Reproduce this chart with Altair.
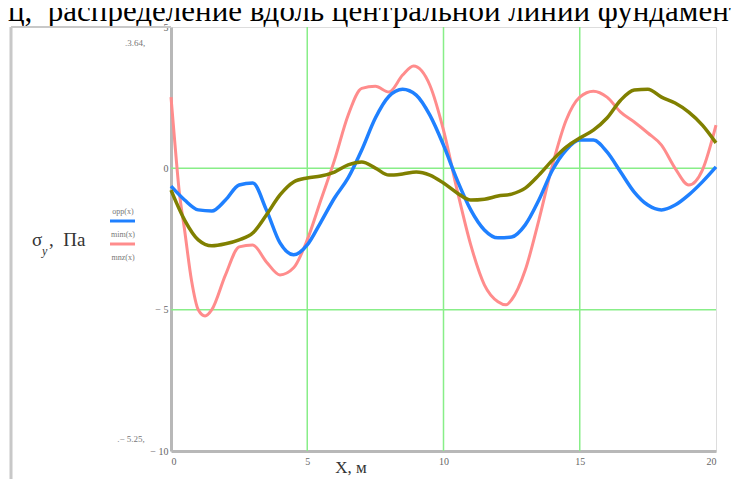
import altair as alt
import pandas as pd

# ---- data ----
x_opp = [0, 0.5, 1, 1.5, 2, 2.5, 3, 3.5, 4, 4.5, 5, 5.5, 6, 6.5, 7, 7.5, 8, 8.5, 9, 9.5, 10,
         10.5, 11, 11.5, 12, 12.5, 13, 13.5, 14, 14.5, 15, 15.5, 16, 16.5, 17, 17.5, 18, 18.5, 19, 19.5, 20]
y_opp = [-0.63, -1.12, -1.47, -1.51, -1.12, -0.59, -0.52, -1.47, -2.64, -3.06, -2.71, -1.9, -1.05, -0.34,
         0.65, 1.78, 2.55, 2.8, 2.59, 1.88, 0.82, -0.41, -1.47, -2.18, -2.46, -2.43, -2.0, -1.12, -0.06,
         0.65, 1.0, 1.0, 0.58, -0.13, -0.84, -1.3, -1.47, -1.3, -0.94, -0.48, 0.05]

x_mim = [0, 0.15, 0.3, 0.5, 0.75, 1, 1.25, 1.5, 2, 2.5, 3, 3.5, 4, 4.5, 5, 5.5, 6, 6.5, 7, 7.5, 8,
         8.5, 8.9, 9.5, 10, 10.5, 11, 11.5, 12, 12.3, 12.5, 13, 13.5, 14, 14.5, 15, 15.5, 16, 16.5,
         17, 17.5, 18, 18.5, 19, 19.5, 20]
y_mim = [2.52, 0.8, -0.8, -2.19, -3.95, -5.0, -5.22, -5.0, -3.77, -2.78, -2.71, -3.31, -3.77, -3.52,
         -2.53, -1.12, 0.29, 1.88, 2.83, 2.9, 2.7, 3.3, 3.62, 2.94, 1.35, -0.77, -2.71, -4.12, -4.72,
         -4.83, -4.65, -3.6, -1.83, 0.12, 1.7, 2.52, 2.73, 2.52, 1.99, 1.64, 1.25, 0.82, 0.0, -0.59,
         -0.06, 1.53]

x_mnz = x_opp
y_mnz = [-0.77, -1.83, -2.53, -2.74, -2.67, -2.53, -2.29, -1.65, -0.94, -0.48, -0.34, -0.27, -0.13,
         0.12, 0.22, 0.01, -0.24, -0.2, -0.13, -0.24, -0.52, -0.87, -1.12, -1.09, -0.98, -0.91, -0.7,
         -0.24, 0.29, 0.75, 1.07, 1.35, 1.78, 2.41, 2.77, 2.8, 2.52, 2.31, 1.99, 1.53, 0.9]

series_names = ["opp(x)", "mim(x)", "mnz(x)"]
series_colors = ["#1f80ff", "#ff8c8c", "#808000"]
x_ticks = [0, 5, 10, 15, 20]
y_ticks = [5, 0, -5, -10]
grid_x = [5, 10, 15]
grid_y = [0, -5]
title_text = "ц,\u00a0 распределение вдоль центральной линии фундамента"
x_title = "X, м"
marker_labels = [".3.64,", ".− 5.25,"]

W, H = 545, 424

df = pd.concat([
    pd.DataFrame({"x": x_opp, "y": y_opp, "s": series_names[0]}),
    pd.DataFrame({"x": x_mim, "y": y_mim, "s": series_names[1]}),
    pd.DataFrame({"x": x_mnz, "y": y_mnz, "s": series_names[2]}),
], ignore_index=True)

xs = alt.Scale(domain=[0, 20], nice=False, zero=False)
ys = alt.Scale(domain=[-10, 5], nice=False, zero=False)

base = alt.Chart(df)

def line(name, color, width):
    return base.transform_filter(alt.datum.s == name).mark_line(
        color=color, strokeWidth=width, interpolate="monotone"
    ).encode(
        x=alt.X("x:Q", scale=xs, axis=alt.Axis(
            values=x_ticks, grid=False, ticks=False, title=None, domainColor="#b8b8b8",
            domainWidth=3, labelFont="Liberation Serif", labelFontSize=10, labelColor="#666666",
            labelPadding=5, labelFlush=True)),
        y=alt.Y("y:Q", scale=ys, axis=alt.Axis(
            values=y_ticks, grid=False, ticks=False, title=None, domainColor="#b8b8b8",
            domainWidth=3, labelFont="Liberation Serif", labelFontSize=10, labelColor="#666666",
            labelPadding=3, labelFlush=False,
            labelExpr="datum.value < 0 ? '− ' + abs(datum.value) : datum.label")),
        order="x:Q",
    )

gx = alt.Chart(pd.DataFrame({"g": grid_x})).mark_rule(color="#88ee88", strokeWidth=1.5).encode(
    x=alt.X("g:Q", scale=xs))
gy = alt.Chart(pd.DataFrame({"g": grid_y})).mark_rule(color="#88ee88", strokeWidth=1.5).encode(
    y=alt.Y("g:Q", scale=ys))

one = pd.DataFrame({"t": [title_text]})
title = alt.Chart(one).mark_text(
    align="left", baseline="alphabetic", font="Liberation Serif", fontSize=31, color="#000000"
).encode(x=alt.value(-163), y=alt.value(-6), text="t:N")

xt = alt.Chart(pd.DataFrame({"t": [x_title]})).mark_text(
    align="center", baseline="alphabetic", font="Liberation Serif", fontSize=17, color="#333333"
).encode(x=alt.value(180), y=alt.value(446), text="t:N")

sig = alt.Chart(pd.DataFrame({"t": ["σ"]})).mark_text(
    align="left", baseline="alphabetic", font="Liberation Serif", fontSize=19, color="#333333"
).encode(x=alt.value(-139), y=alt.value(219), text="t:N")
sub = alt.Chart(pd.DataFrame({"t": ["y"]})).mark_text(
    align="left", baseline="alphabetic", font="Liberation Serif", fontSize=12, fontStyle="italic",
    color="#333333"
).encode(x=alt.value(-129), y=alt.value(228), text="t:N")
pa = alt.Chart(pd.DataFrame({"t": [",\u00a0 Па"]})).mark_text(
    align="left", baseline="alphabetic", font="Liberation Serif", fontSize=19, color="#333333"
).encode(x=alt.value(-122), y=alt.value(219), text="t:N")

m1 = alt.Chart(pd.DataFrame({"t": [marker_labels[0]]})).mark_text(
    align="center", baseline="middle", font="Liberation Serif", fontSize=9, color="#777777"
).encode(x=alt.value(-36), y=alt.value(16), text="t:N")
m2 = alt.Chart(pd.DataFrame({"t": [marker_labels[1]]})).mark_text(
    align="center", baseline="middle", font="Liberation Serif", fontSize=9, color="#777777"
).encode(x=alt.value(-40), y=alt.value(412), text="t:N")

leg_y_text = [185, 208, 231]
legend_layers = []
for i, nm in enumerate(series_names):
    legend_layers.append(alt.Chart(pd.DataFrame({"t": [nm]})).mark_text(
        align="center", baseline="middle", font="Liberation Serif", fontSize=8, color="#777777"
    ).encode(x=alt.value(-48), y=alt.value(leg_y_text[i]), text="t:N"))
for i in range(2):
    legend_layers.append(alt.Chart(pd.DataFrame({"t": [series_names[i]]})).mark_rule(
        color=series_colors[i], strokeWidth=3
    ).encode(x=alt.value(-61), x2=alt.value(-36), y=alt.value(leg_y_text[i] + 9)))

frame_l = alt.Chart(one).mark_rule(color="#c8c8c8", strokeWidth=3).encode(
    x=alt.value(-160), y=alt.value(0), y2=alt.value(460))
frame_t = alt.Chart(one).mark_rule(color="#c8c8c8", strokeWidth=2).encode(
    x=alt.value(-160), x2=alt.value(0), y=alt.value(0))

chart = alt.layer(
    gx, gy,
    line(series_names[1], series_colors[1], 3),
    line(series_names[0], series_colors[0], 3.5),
    line(series_names[2], series_colors[2], 3.5),
    title, xt, sig, sub, pa, m1, m2, frame_l, frame_t, *legend_layers
).properties(
    width=W, height=H,
    autosize=alt.AutoSizeParams(type="none"),
    padding={"left": 163, "top": 19, "right": 15, "bottom": 28},
).configure_view(stroke="#c8c8c8", strokeWidth=2).configure(background="white")

chart.save("out.html", embed_options={"renderer": "svg", "actions": False})
